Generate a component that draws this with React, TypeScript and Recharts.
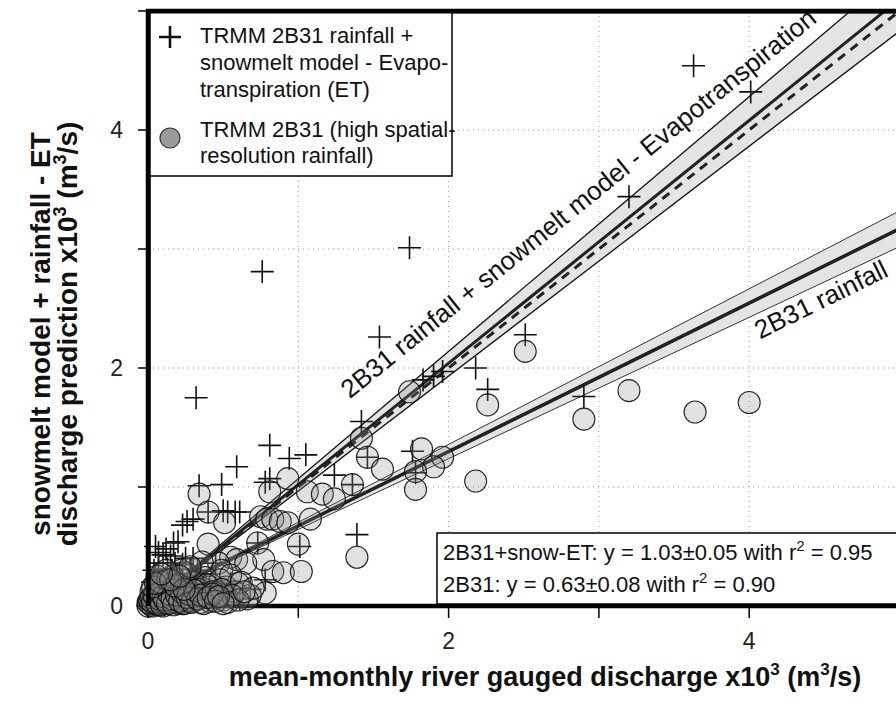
import React from 'react';
import {
  ComposedChart,
  Scatter,
  Line,
  Area,
  XAxis,
  YAxis,
  CartesianGrid,
  ReferenceArea,
  ReferenceDot,
} from 'recharts';

const FONT = '"Liberation Sans", Arial, Helvetica, sans-serif';

// TRMM 2B31 rainfall + snowmelt model - ET (crosses)
const etX = [3.63, 4.01, 3.2, 1.74, 0.76, 1.54, 2.51, 0.32, 2.18, 2.26, 2.9, 1.96, 1.83, 1.9, 1.42, 1.46, 1.76, 1.78, 1.36, 1.39, 0.81, 0.94, 1.05, 0.59, 1.24, 0.49, 0.34, 0.81, 0.78, 0.4, 0.5, 0.53, 0.58, 0.61, 0.23, 0.26, 0.3, 0.2, 0.1, 0.07, 0.17, 0.73, 1.01, 0.78, 0.01, 0.03, 0.05, 0.08, 0.11, 0.15, 0.18, 0.21, 0.25, 0.28, 0.31, 0.35, 0.41, 0.45, 0.48, 0.55, 0.61, 0.68, 0.18, 0.13, 0.25, 0.0, 0.02, 0.06, 0.1, 0.14, 0.2, 0.02, 0.04, 0.07, 0.09, 0.12, 0.16, 0.2, 0.23, 0.27, 0.3, 0.33, 0.38, 0.04, 0.07, 0.12, 0.15, 0.05, 0.03, 0.01, 0.03, 0.06, 0.09, 0.12, 0.15, 0.19, 0.22, 0.26, 0.29, 0.34, 0.4, 0.44, 0.52];
const etY = [4.54, 4.32, 3.44, 3.01, 2.81, 2.26, 2.28, 1.75, 2.0, 1.82, 1.76, 1.97, 1.9, 1.93, 1.55, 1.25, 1.3, 1.12, 1.02, 0.6, 1.35, 1.24, 1.27, 1.17, 1.1, 1.02, 1.01, 1.07, 1.04, 0.79, 0.8, 0.79, 0.79, 0.79, 0.68, 0.71, 0.73, 0.54, 0.43, 0.45, 0.53, 0.53, 0.5, 0.22, 0.06, 0.1, 0.14, 0.19, 0.13, 0.23, 0.16, 0.27, 0.1, 0.31, 0.19, 0.25, 0.14, 0.36, 0.08, 0.19, 0.06, 0.14, 0.36, 0.31, 0.4, 0.0, 0.02, 0.04, 0.05, 0.08, 0.04, 0.08, 0.12, 0.15, 0.22, 0.18, 0.3, 0.2, 0.35, 0.22, 0.4, 0.3, 0.2, 0.3, 0.36, 0.48, 0.42, 0.5, 0.2, 0.03, 0.05, 0.09, 0.11, 0.06, 0.12, 0.08, 0.12, 0.05, 0.14, 0.1, 0.05, 0.09, 0.1];

// TRMM 2B31 high spatial resolution rainfall (circles)
const rainX = [2.51, 2.26, 2.9, 3.2, 3.64, 4.0, 1.74, 1.42, 1.46, 1.56, 1.36, 1.82, 1.96, 1.9, 1.78, 1.78, 2.18, 1.39, 0.34, 0.4, 0.51, 0.93, 0.81, 1.06, 1.16, 1.24, 1.08, 0.75, 0.79, 0.83, 0.88, 0.93, 1.0, 0.73, 0.77, 0.83, 0.9, 1.02, 0.78, 0.55, 0.59, 0.65, 0.47, 0.49, 0.4, 0.36, 0.6, 0.51, 0.68, 0.0, 0.02, 0.03, 0.05, 0.06, 0.08, 0.1, 0.12, 0.13, 0.15, 0.17, 0.19, 0.2, 0.22, 0.24, 0.26, 0.28, 0.3, 0.32, 0.34, 0.36, 0.38, 0.4, 0.42, 0.45, 0.48, 0.5, 0.52, 0.55, 0.58, 0.62, 0.66, 0.7, 0.04, 0.09, 0.14, 0.18, 0.25, 0.1, 0.2, 0.01, 0.03, 0.04, 0.05, 0.07, 0.07, 0.09, 0.11, 0.11, 0.12, 0.14, 0.15, 0.16, 0.18, 0.18, 0.2, 0.21, 0.23, 0.23, 0.25, 0.27, 0.29, 0.3, 0.31, 0.33, 0.35, 0.37, 0.39, 0.41, 0.43, 0.46, 0.49, 0.53, 0.56, 0.6, 0.64, 0.02, 0.06, 0.1, 0.16, 0.22, 0.28, 0.12, 0.06, 0.0, 0.01, 0.02, 0.03, 0.04, 0.06, 0.07, 0.08, 0.09, 0.1, 0.11, 0.13, 0.14, 0.16, 0.17, 0.19, 0.21, 0.22, 0.24, 0.26, 0.27, 0.29, 0.31, 0.33, 0.35, 0.37, 0.4, 0.43, 0.45, 0.47, 0.5, 0.03, 0.08, 0.13, 0.18, 0.24, 0.05, 0.15, 0.21, 0.09];
const rainY = [2.14, 1.69, 1.57, 1.81, 1.63, 1.71, 1.8, 1.41, 1.25, 1.15, 1.02, 1.32, 1.25, 1.17, 1.13, 0.98, 1.05, 0.41, 0.94, 0.79, 0.7, 1.07, 0.96, 0.96, 0.94, 0.9, 0.73, 0.75, 0.73, 0.73, 0.71, 0.7, 0.52, 0.53, 0.39, 0.29, 0.28, 0.29, 0.11, 0.41, 0.39, 0.36, 0.36, 0.3, 0.52, 0.37, 0.19, 0.09, 0.09, 0.0, 0.01, 0.03, 0.02, 0.05, 0.03, 0.06, 0.04, 0.09, 0.05, 0.1, 0.07, 0.12, 0.05, 0.14, 0.08, 0.17, 0.1, 0.2, 0.06, 0.15, 0.24, 0.09, 0.18, 0.12, 0.22, 0.05, 0.16, 0.26, 0.12, 0.2, 0.06, 0.15, 0.08, 0.12, 0.18, 0.22, 0.28, 0.0, 0.02, 0.02, 0.0, 0.04, 0.07, 0.01, 0.1, 0.04, 0.02, 0.13, 0.08, 0.02, 0.12, 0.06, 0.03, 0.15, 0.08, 0.18, 0.02, 0.11, 0.05, 0.13, 0.04, 0.2, 0.08, 0.14, 0.03, 0.1, 0.18, 0.04, 0.12, 0.07, 0.14, 0.03, 0.09, 0.05, 0.12, 0.12, 0.16, 0.2, 0.25, 0.3, 0.33, 0.3, 0.25, 0.03, 0.05, 0.07, 0.03, 0.09, 0.02, 0.06, 0.11, 0.01, 0.08, 0.05, 0.02, 0.1, 0.06, 0.01, 0.09, 0.04, 0.12, 0.02, 0.07, 0.1, 0.03, 0.13, 0.06, 0.09, 0.02, 0.07, 0.1, 0.04, 0.08, 0.02, 0.16, 0.2, 0.22, 0.17, 0.14, 0.19, 0.22, 0.25, 0.27];

// fitted lines and confidence bands (values at x = 0 and x = 5)
const fitX = [0, 5];
const etFitY = [0, 5.1];
const etUpperY = [0, 5.35];
const etLowerY = [0, 4.83];
const oneToOneY = [0, 5];
const rainFitY = [0.05, 3.17];
const rainUpperY = [0.05, 3.32];
const rainLowerY = [0.05, 3.02];

const xTicks = [0, 1, 2, 3, 4, 5];
const yTicks = [0, 1, 2, 3, 4, 5];
const labelledTicks = [0, 2, 4];

const etPoints = etX.map((x, i) => ({ x, y: etY[i] }));
const rainPoints = rainX.map((x, i) => ({ x, y: rainY[i] }));
const mk = (ys: number[]) => fitX.map((x, i) => ({ x, y: ys[i] }));
const mkBand = (lo: number[], hi: number[]) => fitX.map((x, i) => ({ x, band: [lo[i], hi[i]] }));

const CrossShape = (p: any) => {
  const { cx, cy } = p;
  if (cx == null || cy == null) return <g />;
  const s = 11.5;
  return (
    <path
      d={`M${cx - s},${cy}H${cx + s}M${cx},${cy - s}V${cy + s}`}
      stroke="#111"
      strokeWidth={1.6}
      fill="none"
    />
  );
};

const CircleShape = (p: any) => {
  const { cx, cy } = p;
  if (cx == null || cy == null) return <g />;
  return <circle cx={cx} cy={cy} r={11} fill="#8a8a8a" fillOpacity={0.26} stroke="#111" strokeOpacity={0.9} strokeWidth={1.1} />;
};

const rotatedLabel = (text: string, angle: number, anchor: 'start' | 'middle') => (p: any) => {
  const { cx, cy } = p;
  return (
    <text
      x={cx}
      y={cy}
      transform={`rotate(${angle} ${cx} ${cy})`}
      textAnchor={anchor}
      fontFamily={FONT}
      fontSize={26}
      fill="#111"
    >
      {text}
    </text>
  );
};

const tickFmt = (v: number) => (labelledTicks.includes(v) ? String(v) : '');

export default function App() {
  return (
    <div style={{ position: 'absolute', left: 0, top: 0, width: 896, height: 704, overflow: 'hidden', background: '#fff' }}>
      <ComposedChart width={910} height={704} margin={{ top: 11, right: 10.5, left: 88, bottom: 68 }}>
        <CartesianGrid strokeDasharray="1 4" stroke="#999" />
        <XAxis
          type="number"
          dataKey="x"
          domain={[0, 5]}
          ticks={xTicks}
          tickFormatter={tickFmt}
          axisLine={false}
          tickLine={{ stroke: '#000', strokeWidth: 1.5 }}
          tickSize={12}
          tickMargin={15}
          height={30}
          tick={{ fontSize: 23, fill: '#222', fontFamily: FONT }}
        />
        <YAxis
          type="number"
          domain={[0, 5]}
          ticks={yTicks}
          tickFormatter={tickFmt}
          axisLine={false}
          tickLine={{ stroke: '#000', strokeWidth: 1.5 }}
          tickSize={10}
          tickMargin={15}
          width={60}
          tick={{ fontSize: 23, fill: '#222', fontFamily: FONT }}
        />
        <YAxis yAxisId="clip" type="number" domain={[0, 5]} allowDataOverflow hide />

        <Area yAxisId="clip" data={mkBand(etLowerY, etUpperY)} dataKey="band" type="linear" fill="#e4e4e4" fillOpacity={1} stroke="none" isAnimationActive={false} />
        <Area yAxisId="clip" data={mkBand(rainLowerY, rainUpperY)} dataKey="band" type="linear" fill="#e4e4e4" fillOpacity={1} stroke="none" isAnimationActive={false} />

        <Line yAxisId="clip" data={mk(etUpperY)} dataKey="y" type="linear" stroke="#111" strokeWidth={1.3} dot={false} activeDot={false} isAnimationActive={false} />
        <Line yAxisId="clip" data={mk(etLowerY)} dataKey="y" type="linear" stroke="#111" strokeWidth={1.3} dot={false} activeDot={false} isAnimationActive={false} />
        <Line yAxisId="clip" data={mk(etFitY)} dataKey="y" type="linear" stroke="#222" strokeWidth={3} dot={false} activeDot={false} isAnimationActive={false} />
        <Line yAxisId="clip" data={mk(oneToOneY)} dataKey="y" type="linear" stroke="#222" strokeWidth={3} strokeDasharray="9 7" dot={false} activeDot={false} isAnimationActive={false} />

        <Line yAxisId="clip" data={mk(rainUpperY)} dataKey="y" type="linear" stroke="#333" strokeWidth={1} dot={false} activeDot={false} isAnimationActive={false} />
        <Line yAxisId="clip" data={mk(rainLowerY)} dataKey="y" type="linear" stroke="#333" strokeWidth={1} dot={false} activeDot={false} isAnimationActive={false} />
        <Line yAxisId="clip" data={mk(rainFitY)} dataKey="y" type="linear" stroke="#222" strokeWidth={3.5} dot={false} activeDot={false} isAnimationActive={false} />

        <Scatter data={etPoints} dataKey="y" shape={CrossShape} isAnimationActive={false} />
        <Scatter data={rainPoints} dataKey="y" shape={CircleShape} isAnimationActive={false} />

        <ReferenceDot x={2.9} y={3.326} r={0} ifOverflow="visible" shape={rotatedLabel('2B31 rainfall + snowmelt model - Evapotranspiration', -38.9, 'middle')} />
        <ReferenceDot x={4.072} y={2.24} r={0} ifOverflow="visible" shape={rotatedLabel('2B31 rainfall', -26.2, 'start')} />

        <ReferenceArea x1={0} x2={5} y1={0} y2={5} fill="none" stroke="#000" strokeWidth={4.5} ifOverflow="visible" />
      </ComposedChart>

      <svg width={896} height={704} style={{ position: 'absolute', left: 0, top: 0, pointerEvents: 'none' }} fontFamily={FONT}>
        {/* legend */}
        <rect x={148} y={11} width={304} height={165} fill="#fff" stroke="#000" strokeWidth={1.5} />
        <path d="M159,37H181M170,26V48" stroke="#111" strokeWidth={2.6} />
        <circle cx={170} cy={138} r={10} fill="#9a9a9a" stroke="#333" strokeWidth={1.2} />
        <g fontSize={22} fill="#111">
          <text x={200} y={43}>TRMM 2B31 rainfall +</text>
          <text x={200} y={70}>snowmelt model - Evapo-</text>
          <text x={200} y={97}>transpiration (ET)</text>
          <text x={200} y={137}>TRMM 2B31 (high spatial-</text>
          <text x={200} y={163}>resolution rainfall)</text>
        </g>
        {/* frame top/left redrawn over legend */}
        <path d="M148.5,11.2H899M148.5,11.2V606" stroke="#000" strokeWidth={4.5} fill="none" />

        {/* regression statistics box */}
        <rect x={437} y={533} width={480} height={71} fill="#fff" stroke="#000" strokeWidth={1.5} />
        <g fontSize={22} fill="#111">
          <text x={443} y={560}>
            2B31+snow-ET: y = 1.03±0.05 with r<tspan dy={-9} fontSize={15}>2</tspan>
            <tspan dy={9}> = 0.95</tspan>
          </text>
          <text x={443} y={592}>
            2B31: y = 0.63±0.08 with r<tspan dy={-9} fontSize={15}>2</tspan>
            <tspan dy={9}> = 0.90</tspan>
          </text>
        </g>

        {/* axis titles */}
        <text x={545} y={686} textAnchor="middle" fontSize={27} fontWeight="bold" fill="#111">
          mean-monthly river gauged discharge x10<tspan dy={-11} fontSize={17}>3</tspan>
          <tspan dy={11}> (m</tspan>
          <tspan dy={-11} fontSize={17}>3</tspan>
          <tspan dy={11}>/s)</tspan>
        </text>
        <g fontSize={28} fontWeight="bold" fill="#111">
          <text transform="translate(50,334) rotate(-90)" textAnchor="middle">snowmelt model + rainfall - ET</text>
          <text transform="translate(77,334) rotate(-90)" textAnchor="middle">
            discharge prediction x10<tspan dy={-11} fontSize={18}>3</tspan>
            <tspan dy={11}> (m</tspan>
            <tspan dy={-11} fontSize={18}>3</tspan>
            <tspan dy={11}>/s)</tspan>
          </text>
        </g>
      </svg>
    </div>
  );
}
